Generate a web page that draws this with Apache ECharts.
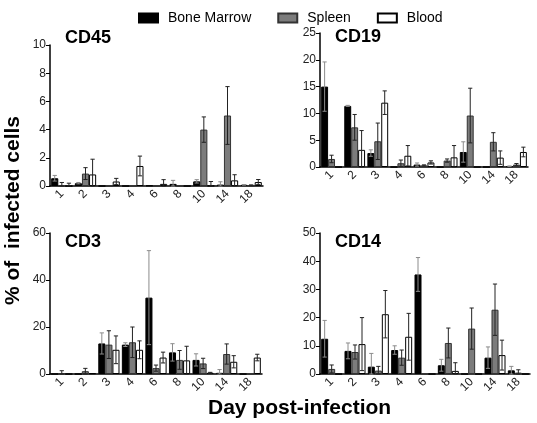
<!DOCTYPE html>
<html><head><meta charset="utf-8">
<script src="https://cdn.jsdelivr.net/npm/echarts@6/dist/echarts.min.js"></script>
<style>html,body{margin:0;padding:0;background:#fff}#c{width:537px;height:423px}</style>
</head><body><div id="c"></div>
<script>
const days = ['1','2','3','4','6','8','10','14','18'];
const seriesNames = ['Bone Marrow','Spleen','Blood'];

const cd45BM    = [0.55,0.2,0,0,0.03,0.15,0.33,0.1,0.08];
const cd45BMErr = [0.2,0.05,0,0,0,0.25,0.12,0.2,0.02];
const cd45SP    = [0,0.88,0,0,0,0,4.0,5.0,0.05];
const cd45SPErr = [0.25,0.42,0,0,0,0,0.9,2.05,0.03];
const cd45BL    = [0,0.82,0.32,1.42,0.15,0,0.02,0.4,0.28];
const cd45BLErr = [0.2,1.08,0.22,0.7,0.3,0,0.3,0.4,0.18];

const cd19BM    = [15,11.4,2.6,0,0.45,0,2.8,0,0.15];
const cd19BMErr = [4.6,0.1,0.6,0,0.3,0,1.9,0,0.05];
const cd19SP    = [1.5,7.4,4.8,0.7,0.3,1.2,9.6,4.7,0.45];
const cd19SPErr = [0.7,2.4,3.4,0.6,0.1,0.3,5.1,1.7,0.2];
const cd19BL    = [0,3.2,12,2.1,0.85,1.8,0,1.75,2.8];
const cd19BLErr = [0,3.6,2.2,1.9,0.3,2.2,0,1.25,0.9];

const cd3BM    = [0,0,13,12.5,32.5,9.2,6,0.5,0];
const cd3BMErr = [0,0,4.5,0.8,20,3.7,2.6,1.4,0];
const cd3SP    = [0.3,1.2,12.5,13.5,2.5,6,4.5,8.5,0];
const cd3SPErr = [1.1,1.2,5.9,6.5,1.3,4,2.2,4.3,0];
const cd3BL    = [0,0.3,10.3,10.3,7,5.8,0.5,5.2,7];
const cd3BLErr = [0,0,5.9,3.8,2.3,6,0.2,2.6,1.4];

const cd14BM    = [12.5,8.2,2.6,8.5,35.3,3.1,0,5.8,1.3];
const cd14BMErr = [6.5,2.8,4.7,1.5,6,2.1,0,3.8,1.4];
const cd14SP    = [1.8,7.8,1.2,5.8,0,11,16.1,22.8,0.5];
const cd14SPErr = [1.4,2.5,1.5,2.7,0,5.3,7.3,9.1,1];
const cd14BL    = [0,10.6,21.2,13.2,0,1.1,0,6.7,0];
const cd14BLErr = [0,9.4,8.4,8.3,0,2.9,0,5.3,0];

const panels = [
  {title:'CD45', max:10, interval:2, titlePos:[65,29], grid:{left:50, top:45, width:213, height:141}, data:[[cd45BM,cd45BMErr],[cd45SP,cd45SPErr],[cd45BL,cd45BLErr]]},
  {title:'CD19', max:25, interval:5, titlePos:[335,28], grid:{left:320, top:33, width:208, height:134}, data:[[cd19BM,cd19BMErr],[cd19SP,cd19SPErr],[cd19BL,cd19BLErr]]},
  {title:'CD3',  max:60, interval:20, titlePos:[65,233], grid:{left:50, top:233, width:212, height:141}, data:[[cd3BM,cd3BMErr],[cd3SP,cd3SPErr],[cd3BL,cd3BLErr]]},
  {title:'CD14', max:50, interval:10, titlePos:[335,233], grid:{left:320, top:233, width:210, height:141}, data:[[cd14BM,cd14BMErr],[cd14SP,cd14SPErr],[cd14BL,cd14BLErr]]}
];

const FONT = "'Liberation Sans', Arial, sans-serif";
const barStyles = [
  {color:'#000000', borderColor:'#000', borderWidth:1},
  {color:'#7c7c7c', borderColor:'#333', borderWidth:1},
  {color:'#ffffff', borderColor:'#000', borderWidth:1}
];
const errColors = ['#8c8c8c','#222','#222'];

function errRender(k, color){
  return function(params, api){
    const x = api.value(0), v = api.value(1), e = api.value(2);
    if (!(e > 0)) return;
    const band = api.size([1,0])[0];
    const off = (k-1) * band * 0.3;
    const top = api.coord([x, v+e]);
    const bot = api.coord([x, Math.max(0, v-e)]);
    const cx = top[0] + off;
    const hw = band*0.09;
    const st = {stroke:color, lineWidth:1};
    return {type:'group', children:[
      {type:'line', shape:{x1:cx,y1:top[1],x2:cx,y2:bot[1]}, style:st},
      {type:'line', shape:{x1:cx-hw,y1:top[1],x2:cx+hw,y2:top[1]}, style:st},
      {type:'line', shape:{x1:cx-hw,y1:bot[1],x2:cx+hw,y2:bot[1]}, style:st}
    ]};
  };
}

const grids=[], xAxes=[], yAxes=[], series=[], titles=[];
panels.forEach((p,i)=>{
  grids.push(Object.assign({containLabel:false}, p.grid));
  xAxes.push({type:'category', gridIndex:i, data:days,
    axisLine:{lineStyle:{color:'#000', width:1.5}},
    axisTick:{alignWithLabel:true, length:4, lineStyle:{color:'#000'}},
    axisLabel:{rotate:45, fontSize:12, color:'#222', fontFamily:FONT, margin:6}});
  yAxes.push({type:'value', gridIndex:i, min:0, max:p.max, interval:p.interval,
    splitLine:{show:false},
    axisLine:{show:true, lineStyle:{color:'#000', width:1.5}},
    axisTick:{show:true, length:4, lineStyle:{color:'#000'}},
    axisLabel:{fontSize:12, color:'#222', fontFamily:FONT, margin:4}});
  titles.push({text:p.title, left:p.titlePos[0], top:p.titlePos[1], padding:0,
    textStyle:{fontSize:18, fontWeight:'bold', color:'#000', fontFamily:FONT}});
  p.data.forEach((d,k)=>{
    series.push({type:'bar', name:seriesNames[k], xAxisIndex:i, yAxisIndex:i,
      data:d[0], barGap:'0%', barCategoryGap:'10%', itemStyle:barStyles[k], z:2});
  });
  p.data.forEach((d,k)=>{
    series.push({type:'custom', name:'err'+i+k, xAxisIndex:i, yAxisIndex:i,
      data:days.map((_,j)=>[j, d[0][j], d[1][j]]), encode:{x:0,y:1},
      renderItem:errRender(k, errColors[k]), z:5, silent:true});
  });
});

const chart = echarts.init(document.getElementById('c'), null, {renderer:'canvas'});
chart.setOption({
  animation:false,
  backgroundColor:'#fff',
  title:titles,
  legend:{data:seriesNames, left:133, top:6, icon:'rect', itemWidth:19, itemHeight:9, itemGap:26,
    textStyle:{fontSize:14, color:'#000', fontFamily:FONT, padding:[0,0,0,5]}},
  grid:grids, xAxis:xAxes, yAxis:yAxes, series:series,
  graphic:[
    {type:'text', x:3, y:305, rotation:Math.PI/2,
      style:{text:'% of  infected cells', font:"bold 21px 'Liberation Sans', Arial", fill:'#000'}},
    {type:'text', left:208, top:398,
      style:{text:'Day post-infection', font:"bold 21px 'Liberation Sans', Arial", fill:'#000'}}
  ]
});
</script></body></html>
